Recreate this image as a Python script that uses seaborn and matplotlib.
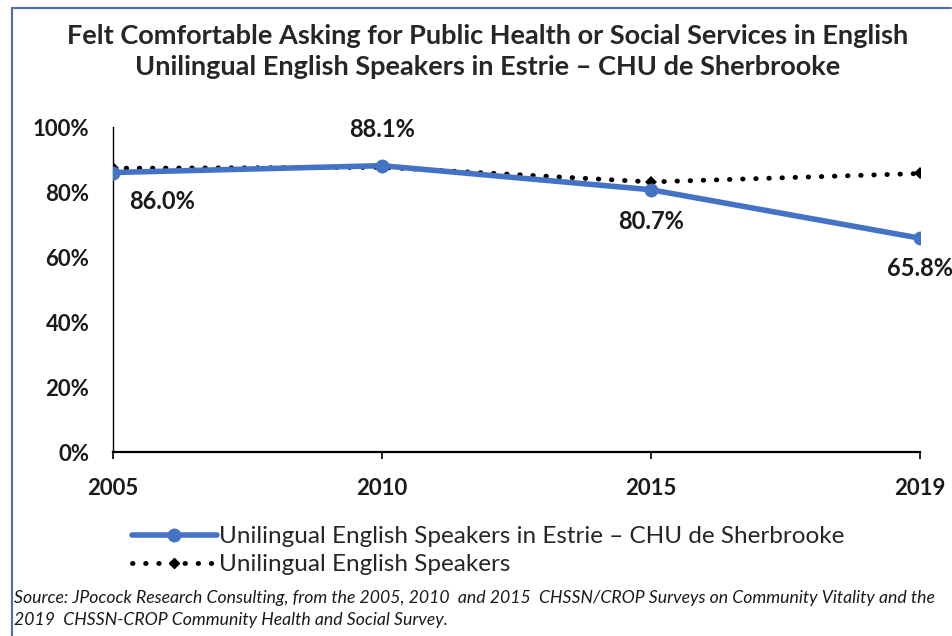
import matplotlib
matplotlib.use("Agg")
import matplotlib.pyplot as plt
import seaborn as sns
import pandas as pd
from matplotlib.lines import Line2D
from matplotlib.ticker import PercentFormatter

sns.set_theme(style="white")
plt.rcParams['font.family'] = ['Lato', 'DejaVu Sans']

# datos
years = ["2005", "2010", "2015", "2019"]
estrie = [86.0, 88.1, 80.7, 65.8]
unilingual = [87.3, 87.6, 83.1, 85.7]
estrie_label = "Unilingual English Speakers in Estrie – CHU de Sherbrooke"
unilingual_label = "Unilingual English Speakers"
title = ("Felt Comfortable Asking for Public Health or Social Services in English\n"
         "Unilingual English Speakers in Estrie – CHU de Sherbrooke")
source = ("Source: JPocock Research Consulting, from the 2005, 2010  and 2015  CHSSN/CROP Surveys on Community Vitality and the\n"
          "2019  CHSSN-CROP Community Health and Social Survey.")

df = pd.DataFrame({"pos": range(len(years)), "year": years,
                   "estrie": estrie, "unilingual": unilingual})

blue = "#4472C4"

fig = plt.figure(figsize=(9.53, 6.36), dpi=100)
ax = fig.add_axes([0.1186, 0.2893, 0.8467, 0.511])

sns.lineplot(data=df, x="pos", y="unilingual", ax=ax, color="black", lw=3.5,
             linestyle=(0, (0.1, 2.6)), dash_capstyle="round",
             marker="D", markersize=6, markeredgewidth=0, zorder=2)
sns.lineplot(data=df, x="pos", y="estrie", ax=ax, color=blue, lw=4,
             marker="o", markersize=10, markeredgewidth=0, zorder=3)

# etiquetas de datos
offsets = [(35, -21), (0, 26), (0, -23), (0, -22)]
for i, v in enumerate(estrie):
    dx, dy = offsets[i]
    ax.annotate(f"{v:.1f}%", (i, v), xytext=(dx, dy), textcoords="offset points",
                ha="center", va="center", fontsize=17, fontweight="bold", color="#1a1a1a",
                annotation_clip=False)

ax.set_xlim(0, len(years) - 1)
ax.set_ylim(0, 100)
ax.set_xticks(df["pos"])
ax.set_xticklabels(years)
ax.set_yticks(range(0, 101, 20))
ax.yaxis.set_major_formatter(PercentFormatter(decimals=0))
ax.set_xlabel("")
ax.set_ylabel("")
for lab in ax.get_xticklabels() + ax.get_yticklabels():
    lab.set_fontweight("bold")
    lab.set_fontsize(16)
    lab.set_color("#1a1a1a")
ax.tick_params(axis="x", length=5, width=1.2, color="black", pad=14, direction="out", bottom=True)
ax.tick_params(axis="y", length=0, pad=17)
sns.despine(ax=ax, top=True, right=True)
ax.spines["left"].set_color("black")
ax.spines["left"].set_linewidth(1)
ax.spines["bottom"].set_color("black")
ax.spines["bottom"].set_linewidth(1.6)
ax.grid(False)

fig.suptitle(title, x=0.512, y=0.963, fontsize=19.5, fontweight="bold", linespacing=1.35)

handles = [Line2D([], [], color=blue, lw=4, marker="o", markersize=9),
           Line2D([], [], color="black", lw=3.5, linestyle=(0, (0.1, 2.6)),
                  dash_capstyle="round", marker="D", markersize=5)]
fig.legend(handles, [estrie_label, unilingual_label], loc="upper left",
           bbox_to_anchor=(0.128, 0.188), frameon=False, fontsize=17.5,
           handlelength=3.5, handletextpad=0.1, labelspacing=0.3, borderaxespad=0)

fig.text(0.015, 0.013, source, fontsize=12.7, style="italic", ha="left", va="bottom",
         color="#1a1a1a", linespacing=1.45)

# marco azul (solo izquierda y arriba)
fig.add_artist(Line2D([0.013, 0.013], [0, 0.987], transform=fig.transFigure, color="#4a6fb0", lw=1.5))
fig.add_artist(Line2D([0.013, 0.998], [0.987, 0.987], transform=fig.transFigure, color="#4a6fb0", lw=1.5))

fig.savefig("out.png", dpi=100)
